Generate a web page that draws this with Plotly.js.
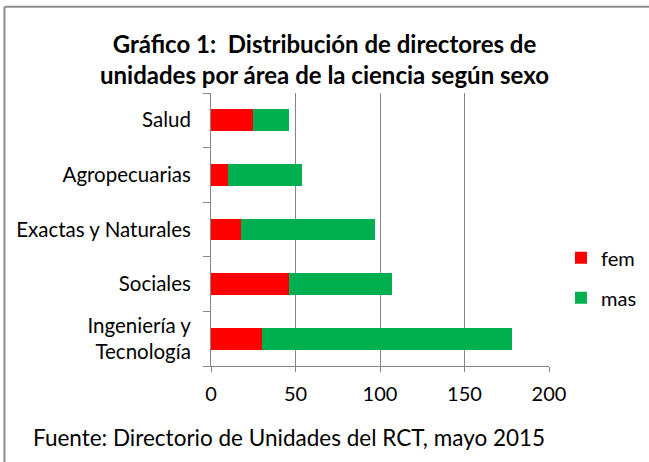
<!DOCTYPE html>
<html><head><meta charset="utf-8">
<script src="https://cdn.plot.ly/plotly-3.0.1.min.js"></script>
<style>html,body{margin:0;padding:0;background:#fff}#c{width:649px;height:462px}</style>
</head><body><div id="c"></div>
<script>
const categories = ["Ingeniería y<br>Tecnología", "Sociales", "Exactas y Naturales", "Agropecuarias", "Salud"];
const fem = [30, 46, 18, 10, 25];
const mas = [148, 61, 79, 44, 21];
const xTicks = [0, 50, 100, 150, 200];

const FONT = "Lato, 'Open Sans', sans-serif";
const W = 649, H = 462, L = 210.7, R = 549, T = 92.5, B = 366;
const px = v => (v - L) / (R - L);
const py = v => (B - v) / (B - T);

const data = [
  {type: 'bar', orientation: 'h', name: 'fem', y: categories, x: fem, legendgroup: 'f',
   marker: {color: '#FF0000'}, hoverinfo: 'x+name'},
  {type: 'bar', orientation: 'h', name: 'mas', y: categories, x: mas, legendgroup: 'm',
   marker: {color: '#00B050'}, hoverinfo: 'x+name'}
];

const layout = {
  width: W, height: H,
  margin: {l: L, r: W - R, t: T, b: H - B, pad: 0, autoexpand: false},
  paper_bgcolor: '#fff', plot_bgcolor: '#fff',
  barmode: 'stack', bargap: 0.6,
  showlegend: true,
  font: {family: FONT, color: '#000', size: 20},
  title: {text: 'Gráfico 1:  Distribución de directores de<br>unidades por área de la ciencia según sexo',
          font: {family: FONT, size: 24, color: '#000', weight: 'bold'},
          x: 0.5, xref: 'container', xanchor: 'center', y: 1 - 53 / H, yanchor: 'middle'},
  xaxis: {range: [0, 200], tickvals: xTicks, ticktext: xTicks.map(String),
          showgrid: true, gridcolor: '#868686', gridwidth: 1,
          showline: true, linecolor: '#868686', linewidth: 1,
          ticks: 'outside', ticklen: 5, tickcolor: '#868686',
          tickfont: {family: FONT, size: 20, color: '#000'}, ticklabelstandoff: 5,
          zeroline: false, fixedrange: true, automargin: false},
  yaxis: {type: 'category', categoryorder: 'array', categoryarray: categories,
          showline: true, linecolor: '#868686', linewidth: 1,
          ticks: 'outside', ticklen: 7, tickcolor: '#868686', tickson: 'boundaries',
          showgrid: false, zeroline: false, ticklabelstandoff: 15,
          tickfont: {family: FONT, size: 20.5, color: '#000'}, fixedrange: true, automargin: false},
  legend: {x: px(561), y: py(238), xanchor: 'left', yanchor: 'top',
           traceorder: 'grouped', font: {family: FONT, size: 20, color: '#000'},
           bgcolor: 'rgba(0,0,0,0)', itemwidth: 30, tracegroupgap: 11},
  annotations: [
    {text: 'Fuente: Directorio de Unidades del RCT, mayo 2015', showarrow: false,
     xref: 'paper', yref: 'paper', x: px(31), y: py(438), xanchor: 'left', yanchor: 'middle',
     font: {family: FONT, size: 22.5, color: '#000'}}
  ],
  shapes: [
    {type: 'line', xref: 'paper', yref: 'paper', x0: px(4), x1: px(4), y0: py(6), y1: py(470),
     line: {color: '#8c8c8c', width: 2}},
    {type: 'line', xref: 'paper', yref: 'paper', x0: px(4), x1: px(660), y0: py(6), y1: py(6),
     line: {color: '#8c8c8c', width: 2}}
  ]
};

Plotly.newPlot('c', data, layout, {displayModeBar: false, staticPlot: true});
</script></body></html>
